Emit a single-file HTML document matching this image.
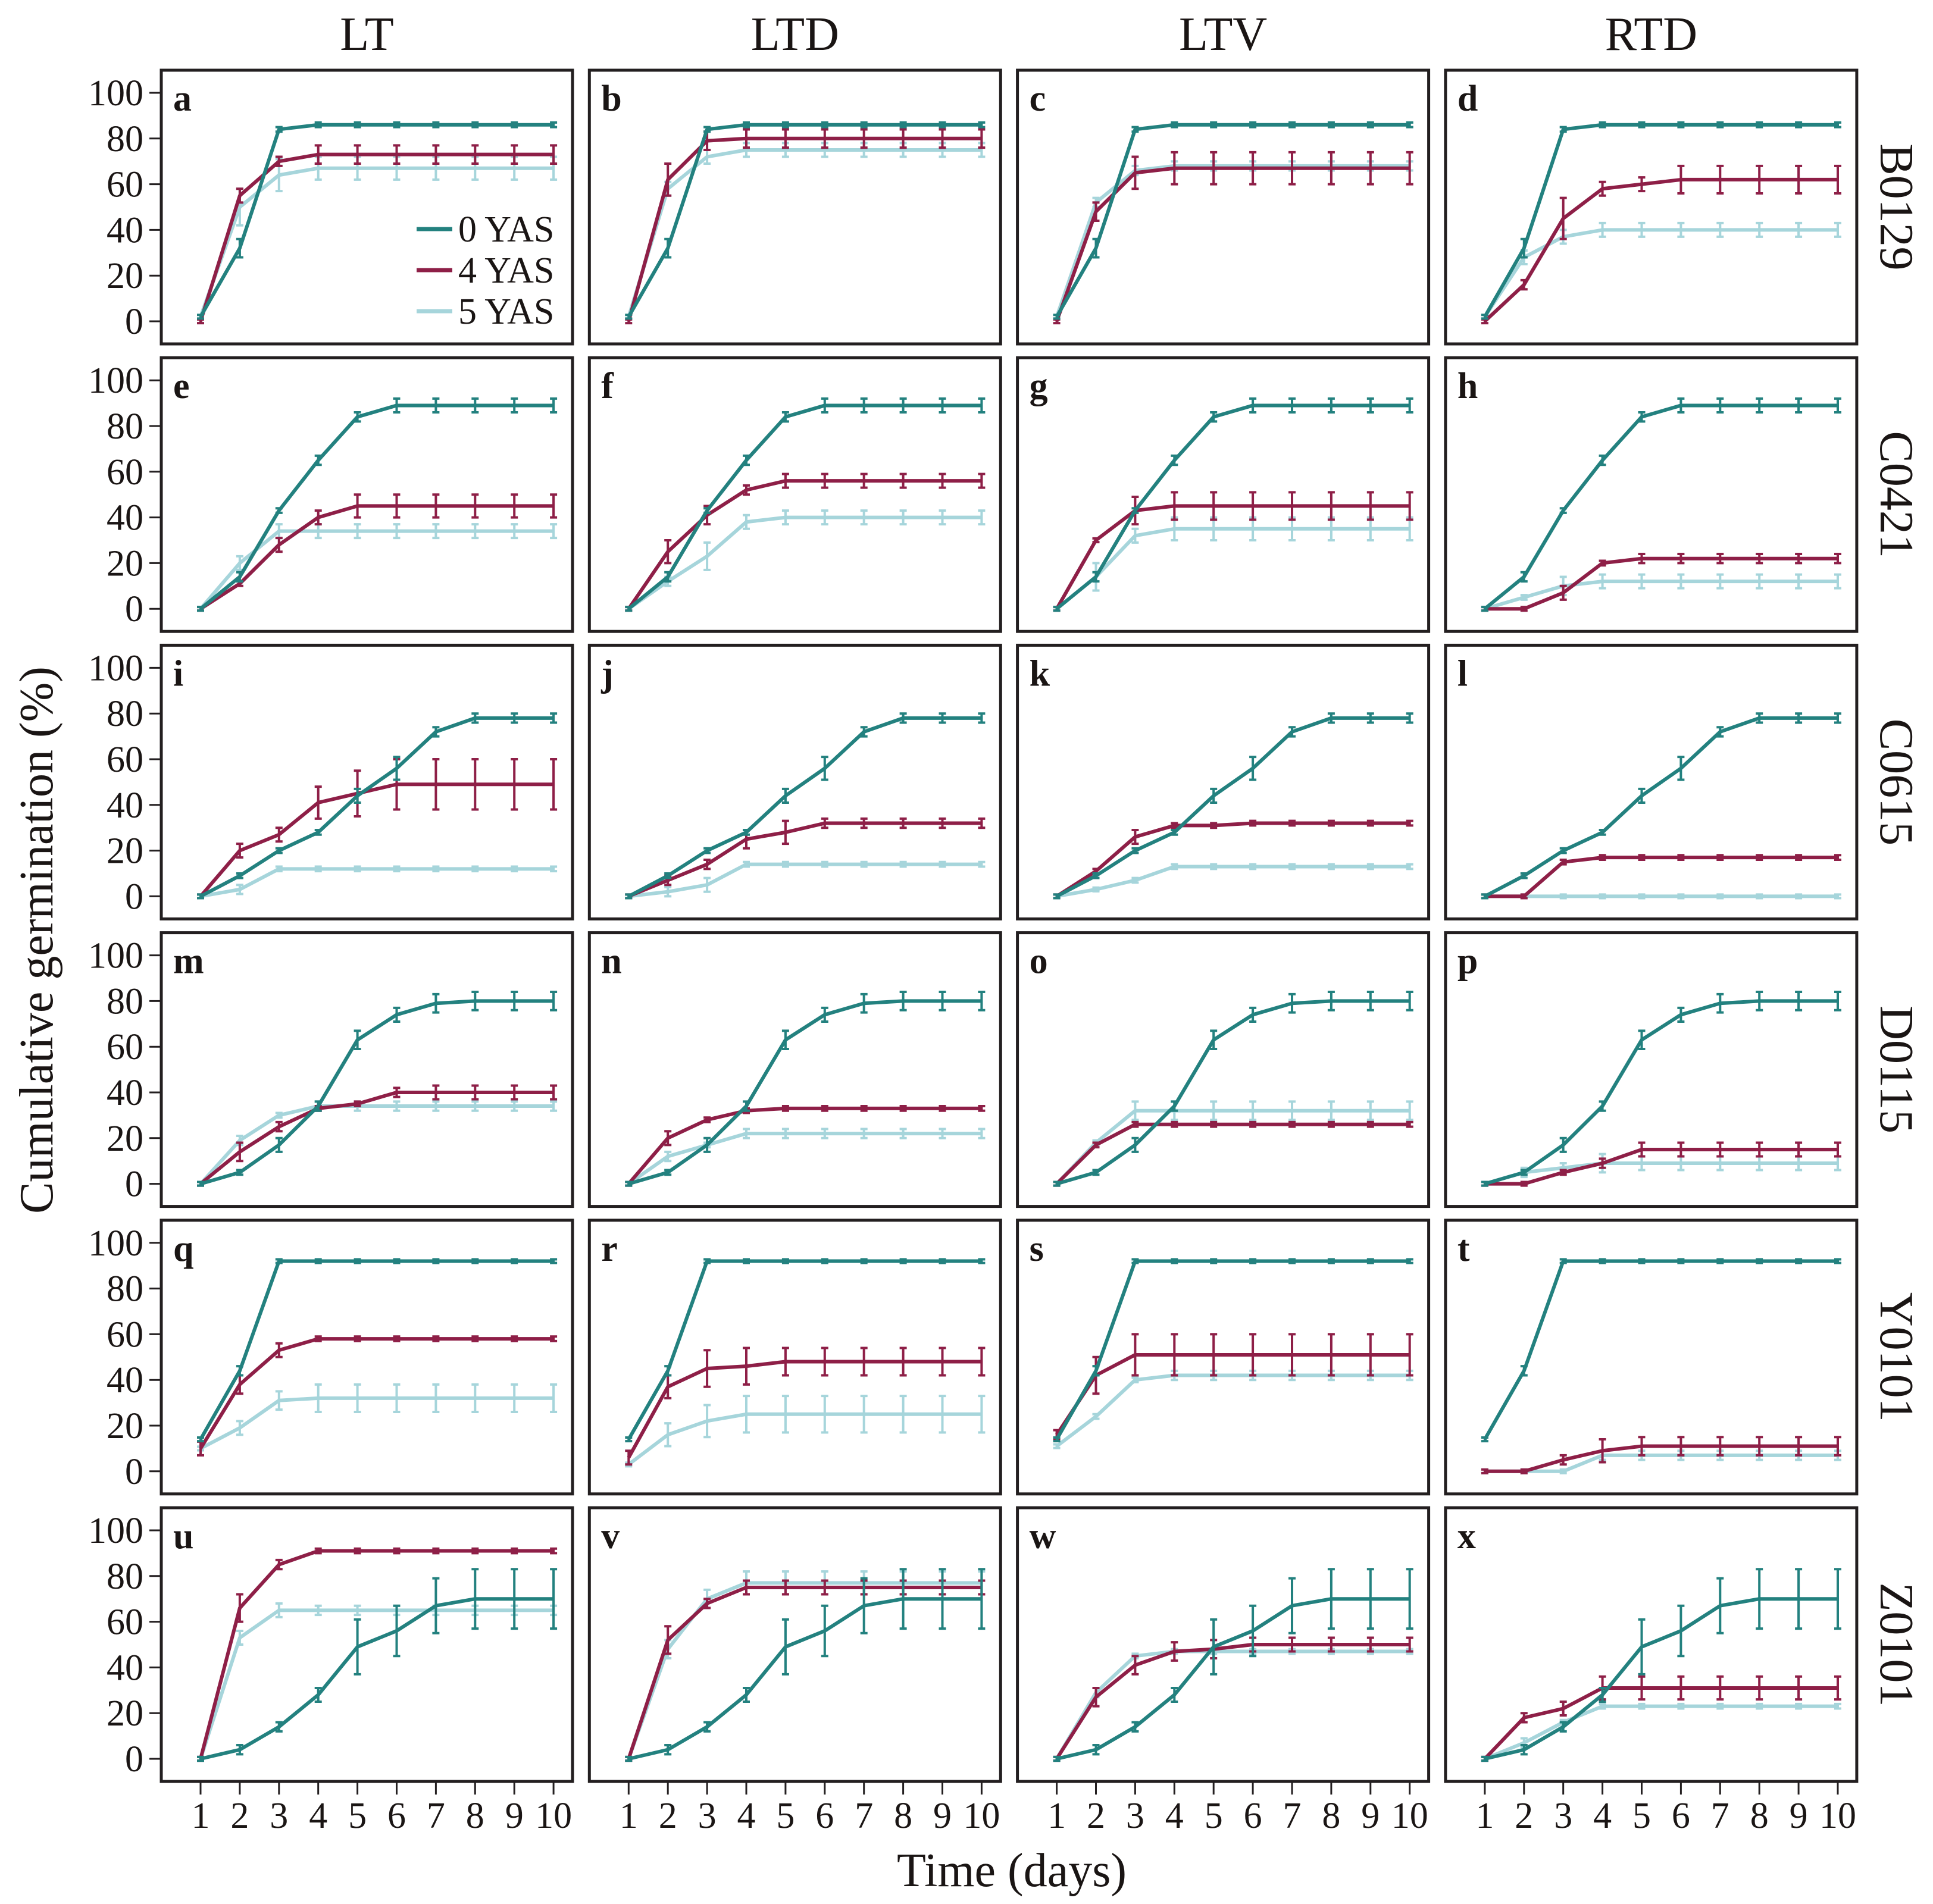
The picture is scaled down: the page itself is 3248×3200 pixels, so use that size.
<!DOCTYPE html>
<html><head><meta charset="utf-8"><style>
html,body{margin:0;padding:0;background:#fff;}
svg{display:block;font-family:"Liberation Serif","DejaVu Serif",serif;}
</style></head><body>
<svg id="chart" width="3248" height="3200" viewBox="0 0 3248 3200" xmlns="http://www.w3.org/2000/svg"></svg>
<script>
const days = [1,2,3,4,5,6,7,8,9,10];
const colTitles = ["LT","LTD","LTV","RTD"];
const rowTitles = ["B0129","C0421","C0615","D0115","Y0101","Z0101"];
const panelLetters = "abcdefghijklmnopqrstuvwx".split("");
const seriesNames = ["0 YAS","4 YAS","5 YAS"];
const yTicks = [0,20,40,60,80,100];
const r0 = [2,32,84,86,86,86,86,86,86,86], e0 = [0,4,1,1,1,1,1,1,1,1];
const r1 = [0,14,43,65,84,89,89,89,89,89], e1 = [0,2,1,2,2,3,3,3,3,3];
const r2 = [0,9,20,28,44,56,72,78,78,78], e2 = [0,1,1,1,3,5,2,2,2,2];
const r3 = [0,5,17,34,63,74,79,80,80,80], e3 = [0,1,3,2,4,3,4,4,4,4];
const r4 = [14,44,92,92,92,92,92,92,92,92], e4 = [0,2,0,0,0,0,0,0,0,0];
const r5 = [0,4,14,28,49,56,67,70,70,70], e5 = [0,2,2,3,12,11,12,13,13,13];
const vals = [
 [r0,[0,55,70,73,73,73,73,73,73,73],[2,50,64,67,67,67,67,67,67,67]],
 [r0,[0,62,79,80,80,80,80,80,80,80],[2,58,72,75,75,75,75,75,75,75]],
 [r0,[0,48,65,67,67,67,67,67,67,67],[2,52,66,68,68,68,68,68,68,68]],
 [r0,[0,16,45,58,60,62,62,62,62,62],[2,28,37,40,40,40,40,40,40,40]],
 [r1,[0,11,28,40,45,45,45,45,45,45],[0,20,34,34,34,34,34,34,34,34]],
 [r1,[0,25,41,52,56,56,56,56,56,56],[0,12,23,38,40,40,40,40,40,40]],
 [r1,[0,30,43,45,45,45,45,45,45,45],[0,14,32,35,35,35,35,35,35,35]],
 [r1,[0,0,7,20,22,22,22,22,22,22],[0,5,10,12,12,12,12,12,12,12]],
 [r2,[0,20,27,41,45,49,49,49,49,49],[0,3,12,12,12,12,12,12,12,12]],
 [r2,[0,7,14,25,28,32,32,32,32,32],[0,2,5,14,14,14,14,14,14,14]],
 [r2,[0,11,26,31,31,32,32,32,32,32],[0,3,7,13,13,13,13,13,13,13]],
 [r2,[0,0,15,17,17,17,17,17,17,17],[0,0,0,0,0,0,0,0,0,0]],
 [r3,[0,14,25,33,35,40,40,40,40,40],[0,19,30,34,34,34,34,34,34,34]],
 [r3,[0,20,28,32,33,33,33,33,33,33],[0,12,17,22,22,22,22,22,22,22]],
 [r3,[0,17,26,26,26,26,26,26,26,26],[0,18,32,32,32,32,32,32,32,32]],
 [r3,[0,0,5,9,15,15,15,15,15,15],[0,5,7,9,9,9,9,9,9,9]],
 [r4,[10,38,53,58,58,58,58,58,58,58],[10,19,31,32,32,32,32,32,32,32]],
 [r4,[6,37,45,46,48,48,48,48,48,48],[3,16,22,25,25,25,25,25,25,25]],
 [r4,[16,42,51,51,51,51,51,51,51,51],[11,24,40,42,42,42,42,42,42,42]],
 [r4,[0,0,5,9,11,11,11,11,11,11],[0,0,0,7,7,7,7,7,7,7]],
 [r5,[0,66,85,91,91,91,91,91,91,91],[0,53,65,65,65,65,65,65,65,65]],
 [r5,[0,52,68,75,75,75,75,75,75,75],[0,48,70,77,77,77,77,77,77,77]],
 [r5,[0,27,41,47,48,50,50,50,50,50],[0,29,45,47,47,47,47,47,47,47]],
 [r5,[0,18,22,31,31,31,31,31,31,31],[0,7,16,23,23,23,23,23,23,23]]
];
const errs = [
 [e0,[0,3,2,4,4,4,4,4,4,4],[0,8,7,5,5,5,5,5,5,5]],
 [e0,[0,7,4,4,4,4,4,4,4,4],[0,3,3,3,3,3,3,3,3,3]],
 [e0,[0,4,7,7,7,7,7,7,7,7],[0,2,2,2,2,2,2,2,2,2]],
 [e0,[0,2,9,3,3,6,6,6,6,6],[0,3,3,3,3,3,3,3,3,3]],
 [e1,[0,1,3,3,5,5,5,5,5,5],[0,3,3,3,3,3,3,3,3,3]],
 [e1,[0,5,4,2,3,3,3,3,3,3],[0,2,6,3,3,3,3,3,3,3]],
 [e1,[0,0,6,6,6,6,6,6,6,6],[0,6,3,5,5,5,5,5,5,5]],
 [e1,[0,0,3,1,2,2,2,2,2,2],[0,1,4,3,3,3,3,3,3,3]],
 [e2,[0,3,3,7,10,11,11,11,11,11],[0,2,1,1,1,1,1,1,1,1]],
 [e2,[0,2,2,4,5,2,2,2,2,2],[0,2,3,1,1,1,1,1,1,1]],
 [e2,[0,1,3,1,1,1,1,1,1,1],[0,0,1,1,1,1,1,1,1,1]],
 [e2,[0,0,1,1,1,1,1,1,1,1],[0,0,0,0,0,0,0,0,0,0]],
 [e3,[0,4,2,1,1,2,3,3,3,3],[0,2,1,2,2,2,2,2,2,2]],
 [e3,[0,3,1,1,1,1,1,1,1,1],[0,2,1,2,2,2,2,2,2,2]],
 [e3,[0,1,1,1,1,1,1,1,1,1],[0,1,4,4,4,4,4,4,4,4]],
 [e3,[0,0,1,2,3,3,3,3,3,3],[0,2,2,4,3,3,3,3,3,3]],
 [e4,[3,4,3,1,1,1,1,1,1,1],[0,3,4,6,6,6,6,6,6,6]],
 [e4,[3,5,8,8,6,6,6,6,6,6],[0,5,7,8,8,8,8,8,8,8]],
 [e4,[2,8,9,9,9,9,9,9,9,9],[0,1,1,2,2,2,2,2,2,2]],
 [e4,[0,0,2,5,4,4,4,4,4,4],[0,0,0,2,2,2,2,2,2,2]],
 [e5,[0,6,2,1,1,1,1,1,1,1],[0,3,3,2,2,2,2,2,2,2]],
 [e5,[0,6,2,3,3,3,3,3,3,3],[0,4,4,5,5,5,5,5,5,5]],
 [e5,[0,4,4,4,4,3,3,3,3,3],[0,2,1,1,1,1,1,1,1,1]],
 [e5,[0,2,3,5,5,5,5,5,5,5],[0,2,1,1,1,1,1,1,1,1]]
];
const colors = ["#23817f","#8e1f47","#a6d5db"];
const svg = document.getElementById('chart');
const NS = "http://www.w3.org/2000/svg";
function mk(tag, attrs, parent){const e=document.createElementNS(NS,tag);for(const k in attrs)e.setAttribute(k,attrs[k]);(parent||svg).appendChild(e);return e;}
const PW=691, PH=460, X0=271, Y0=118, DX=719.3, DY=483.2;
function xPos(c,d){return X0+c*DX+66+(d-1)*65.9;}
function yPos(r,v){return Y0+r*DY+422-v*3.84;}

colTitles.forEach((t,c)=>{
  const e=mk('text',{x:X0+c*DX+PW/2,y:84,'font-size':80,'text-anchor':'middle',fill:'#1a1514'});
  e.textContent=t;
  
  
});
rowTitles.forEach((t,r)=>{
  const cy=Y0+r*DY+PH/2, cx=3160;
  const e=mk('text',{x:cx,y:cy,'font-size':80,'text-anchor':'middle',transform:`rotate(90 ${cx} ${cy})`,fill:'#1a1514'});
  e.textContent=t;
  
  
});
{
  const e=mk('text',{x:1700,y:3170,'font-size':80,'text-anchor':'middle',fill:'#1a1514'});
  e.textContent='Time (days)';
  
  
  const e2=mk('text',{x:88,y:1580,'font-size':80,'text-anchor':'middle',transform:'rotate(-90 88 1580)',fill:'#1a1514'});
  e2.textContent='Cumulative germination (%)';
  
  
}

for(let r=0;r<6;r++){
  for(let c=0;c<4;c++){
    const idx=r*4+c;
    const L=X0+c*DX, T=Y0+r*DY;
    const g=mk('g',{});
    
    
    const box=mk('rect',{x:L,y:T,width:PW,height:PH,fill:'none',stroke:'#231f20','stroke-width':5},g);
    
    
    const lt=mk('text',{x:L+20,y:T+68,'font-size':62,'font-weight':'bold',fill:'#1a1514'},g);
    lt.textContent=panelLetters[idx];
    
    
    if(c===0){
      yTicks.forEach(v=>{
        const y=yPos(r,v);
        const tk=mk('line',{x1:L-20,x2:L,y1:y,y2:y,stroke:'#231f20','stroke-width':3},g);
        
        
        const tl=mk('text',{x:L-30,y:y+21,'font-size':62,'text-anchor':'end',fill:'#1a1514'},g);
        tl.textContent=v;
        
        
      });
    }
    if(r===5){
      days.forEach(d=>{
        const x=xPos(c,d);
        const tk=mk('line',{x1:x,x2:x,y1:T+PH,y2:T+PH+22,stroke:'#231f20','stroke-width':3},g);
        
        
        const tl=mk('text',{x:x,y:T+PH+78,'font-size':62,'text-anchor':'middle',fill:'#1a1514'},g);
        tl.textContent=d;
        
        
      });
    }
    for(let s=2;s>=0;s--){
      const sg=mk('g',{},g);
      
      
      const v=vals[idx][s], er=errs[idx][s];
      days.forEach((d,i)=>{
        const x=xPos(c,d);
        const ee=Math.max(er[i],0.8);
        const y1=yPos(r,v[i]-ee), y2=yPos(r,v[i]+ee);
        const eb=mk('path',{d:`M${x},${y1}V${y2}M${x-6},${y1}H${x+6}M${x-6},${y2}H${x+6}`,stroke:colors[s],'stroke-width':4,fill:'none'},sg);
        
        
      });
      const pts=days.map((d,i)=>xPos(c,d)+','+yPos(r,v[i])).join(' ');
      const pl=mk('polyline',{points:pts,fill:'none',stroke:colors[s],'stroke-width':6,'stroke-linejoin':'round'},sg);
      
      
    }
    if(idx===0){
      const lg=mk('g',{},g);
      
      
      [385,454,523].forEach((y,s)=>{
        const ln=mk('line',{x1:700,x2:760,y1:y,y2:y,stroke:colors[s],'stroke-width':7},lg);
        
        
        const tx=mk('text',{x:770,y:y+21,'font-size':62,fill:'#1a1514'},lg);
        tx.textContent=seriesNames[s];
        
        
      });
    }
  }
}
</script>
</body></html>
